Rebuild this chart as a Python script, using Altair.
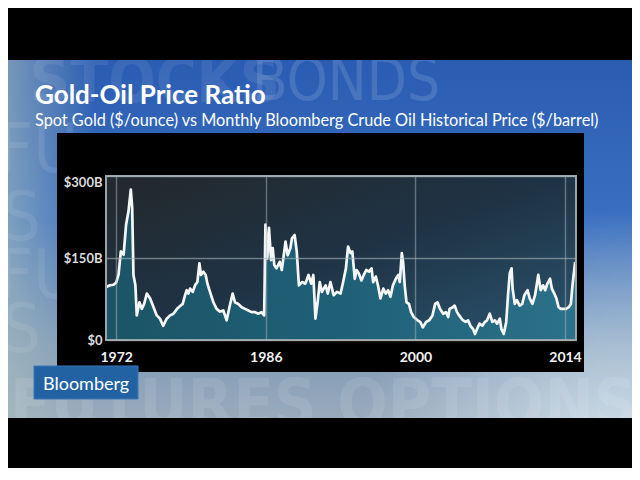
import altair as alt
import pandas as pd

# ---- data ----
years = [1971.08, 1971.4, 1971.75, 1972.0, 1972.22, 1972.44, 1972.7, 1972.93, 1973.15, 1973.37,
         1973.5, 1973.62, 1973.8, 1973.93, 1974.18, 1974.4, 1974.62, 1974.87, 1975.18, 1975.5,
         1975.8, 1976.1, 1976.4, 1976.73, 1977.05, 1977.36, 1977.7, 1978.04, 1978.23, 1978.45,
         1978.6, 1978.76, 1978.92, 1979.17, 1979.38, 1979.6, 1979.79, 1979.94, 1980.16, 1980.38,
         1980.54, 1980.78, 1981.1, 1981.4, 1981.72, 1982.03, 1982.34, 1982.6, 1982.9, 1983.12,
         1983.43, 1983.75, 1984.06, 1984.37, 1984.68, 1985.0, 1985.3, 1985.6, 1985.85, 1985.97,
         1986.14, 1986.3, 1986.5, 1986.65, 1986.8, 1987.0, 1987.3, 1987.5, 1987.85, 1988.05,
         1988.3, 1988.45, 1988.7, 1988.9, 1989.1, 1989.4, 1989.7, 1990.0, 1990.25, 1990.45,
         1990.65, 1990.85, 1991.05, 1991.25, 1991.6, 1991.8, 1992.05, 1992.35, 1992.66, 1993.0,
         1993.24, 1993.5, 1993.7, 1993.93, 1994.1, 1994.33, 1994.5, 1994.7, 1994.95, 1995.17,
         1995.4, 1995.66, 1995.9, 1996.05, 1996.3, 1996.5, 1996.73, 1997.0, 1997.23, 1997.45,
         1997.67, 1997.9, 1998.17, 1998.4, 1998.54, 1998.73, 1998.85, 1999.0, 1999.17, 1999.4,
         1999.6, 1999.85, 2000.2, 2000.45, 2000.7, 2001.0, 2001.3, 2001.6, 2001.85, 2002.07,
         2002.3, 2002.6, 2002.86, 2003.07, 2003.2, 2003.5, 2003.67, 2003.9, 2004.1, 2004.4,
         2004.7, 2004.93, 2005.15, 2005.4, 2005.58, 2005.77, 2006.0, 2006.27, 2006.5, 2006.7,
         2006.96, 2007.2, 2007.43, 2007.65, 2007.9, 2008.05, 2008.27, 2008.5, 2008.67, 2008.83,
         2009.0, 2009.1, 2009.3, 2009.5, 2009.76, 2010.0, 2010.2, 2010.5, 2010.7, 2010.95,
         2011.2, 2011.5, 2011.73, 2011.95, 2012.15, 2012.35, 2012.6, 2012.77, 2013.0, 2013.2,
         2013.4, 2013.6, 2013.85, 2014.1, 2014.35, 2014.55, 2014.7, 2014.95]
ratios = [97, 100, 101, 105, 119, 162, 156, 211, 235, 275,
          242, 119, 100, 45, 69, 57, 66, 85, 76, 60,
          45, 39, 26, 39, 45, 48, 57, 63, 66, 82,
          91, 85, 94, 88, 100, 106, 140, 119, 125, 119,
          103, 88, 69, 57, 52, 54, 36, 60, 85, 69,
          66, 60, 57, 54, 51, 51, 48, 51, 45, 211,
          149, 205, 146, 168, 137, 131, 143, 128, 180, 155,
          168, 186, 192, 162, 100, 106, 103, 119, 103, 119,
          39, 69, 106, 88, 100, 85, 106, 82, 88, 85,
          106, 131, 171, 159, 162, 112, 128, 122, 109, 119,
          128, 125, 131, 106, 116, 100, 76, 94, 85, 91,
          79, 100, 112, 119, 106, 159, 143, 100, 69, 66,
          51, 42, 36, 33, 23, 33, 36, 45, 66, 69,
          57, 48, 51, 42, 57, 60, 63, 51, 45, 37,
          33, 36, 26, 20, 11, 20, 30, 26, 33, 36,
          48, 33, 36, 30, 39, 20, 11, 33, 82, 122,
          131, 94, 66, 73, 63, 66, 82, 91, 76, 66,
          82, 119, 91, 100, 91, 103, 112, 94, 85, 76,
          60, 57, 57, 57, 60, 66, 100, 143]
x_ticks = [1972, 1986, 2000, 2014]
y_ticks = [0, 150, 300]

title_text = "Gold-Oil Price Ratio"
subtitle_text = "Spot Gold ($/ounce) vs Monthly Bloomberg Crude Oil Historical Price ($/barrel)"
logo_text = "Bloomberg"

df = pd.DataFrame({"year": years, "ratio": ratios})
one = pd.DataFrame({"k": [0]})

W, H = 470, 164  # plot area


def grad(stops, x1=0, y1=0, x2=0, y2=1):
    return alt.LinearGradient(
        gradient="linear",
        stops=[alt.GradientStop(color=c, offset=o) for o, c in stops],
        x1=x1, y1=y1, x2=x2, y2=y2,
    )


def box(x, x2, y, y2, **kw):
    return alt.Chart(one).mark_rect(**kw).encode(
        x=alt.value(x), x2=alt.value(x2), y=alt.value(y), y2=alt.value(y2)
    )


def label(text, x, y, **kw):
    return alt.Chart(one).mark_text(text=text, align="left", baseline="alphabetic", **kw).encode(
        x=alt.value(x), y=alt.value(y)
    )


# studio backdrop (coordinates relative to plot origin)
band = box(-98, 526, -116, 242,
           fill=grad([(0, "#2a5cb2"), (0.45, "#3a70c0"), (0.8, "#7f9ab8"), (1, "#9aaabb")]))
left_haze = box(-98, 526, -116, 242,
                fill=grad([(0, "rgba(170,190,190,0.6)"), (0.14, "rgba(170,190,190,0.0)"),
                           (1, "rgba(170,190,190,0.0)")], x1=0, y1=0, x2=1, y2=0))
right_glow = box(-98, 526, -116, 242,
                 fill=alt.RadialGradient(
                     gradient="radial",
                     stops=[alt.GradientStop(color="rgba(225,240,248,0.85)", offset=0),
                            alt.GradientStop(color="rgba(225,240,248,0.0)", offset=1)],
                     x1=1.0, y1=0.9, r1=0, x2=1.0, y2=0.9, r2=0.45))

ghost_font = "Liberation Sans Narrow, DejaVu Sans Condensed, sans-serif"
ghosts = [
    label("STOCKS", -76, -74, font=ghost_font, fontSize=62, fontWeight="bold", color="#ffffff", opacity=0.08),
    label("BONDS", 146, -76, font=ghost_font, fontSize=58, color="#dfe8f5", opacity=0.15),
    label("FU", -108, -4, font=ghost_font, fontSize=68, color="#ffffff", opacity=0.09),
    label("S", -104, 64, font=ghost_font, fontSize=68, color="#ffffff", opacity=0.08),
    label("FU", -108, 122, font=ghost_font, fontSize=68, color="#ffffff", opacity=0.08),
    label("S", -104, 176, font=ghost_font, fontSize=68, color="#ffffff", opacity=0.08),
    label("FUTURES OPTIONS", -96, 250, font=ghost_font, fontSize=66, fontWeight="bold", color="#ffffff", opacity=0.09),
]

top_bar = box(-98, 526, -168, -116, fill="#000000")
bottom_bar = box(-98, 526, 242, 300, fill="#000000")

title = label(title_text, -71, -72, font="Lato", fontSize=26, fontWeight="bold", color="#ffffff")
subtitle = label(subtitle_text, -71, -50, font="Lato", fontSize=16.3, color="#ffffff")

panel = box(-49, 478, -43, 196, fill="#000000")
plot_bg = box(0, W, 0, H,
              fill=grad([(0, "#23282b"), (0.5, "#1f3345"), (1, "#2a5570")], x1=0, y1=0, x2=1, y2=1))

x_enc = alt.X("year:Q", title=None,
              scale=alt.Scale(domain=[1971.05, 2015.03], nice=False, zero=False),
              axis=alt.Axis(values=x_ticks, format="d", grid=True, gridColor="#a6b2b7",
                            gridOpacity=0.5, gridWidth=1.5, domain=False, ticks=False,
                            labelFont="Lato", labelFontWeight="bold", labelFontSize=14,
                            labelColor="#f2f2f2", labelPadding=10, zindex=1))
y_enc = alt.Y("ratio:Q", title=None,
              scale=alt.Scale(domain=[0, 300], nice=False),
              axis=alt.Axis(values=y_ticks, grid=True, gridColor="#a6b2b7", gridOpacity=0.6,
                            gridWidth=1.5, domain=False, ticks=False,
                            labelExpr="datum.value == 0 ? '$0' : '$' + datum.value + 'B'",
                            labelBaseline={"condition": {"test": "datum.value >= 300", "value": "top"},
                                           "value": "middle"},
                            labelFont="Lato", labelFontWeight="bold", labelFontSize=13,
                            labelColor="#dcdcdc", labelPadding=4, zindex=1))

area = alt.Chart(df).mark_area(
    fill=grad([(0, "#1b5466"), (0.5, "#1f6077"), (1, "#2b7189")], x1=0, y1=0, x2=1, y2=0)
).encode(x=x_enc, y=y_enc)
line = alt.Chart(df).mark_line(color="#f5f7f7", strokeWidth=2.7, strokeJoin="round").encode(
    x="year:Q", y="ratio:Q")

frame = box(0, W, 0, H, fillOpacity=0, stroke="#97a5aa", strokeWidth=2)

logo_box = box(-72, 32, 190, 223, fill="#2262a3", stroke="#3a78b8", strokeWidth=1)
logo = label(logo_text, -63, 214, font="Lato", fontSize=18, color="#ffffff")

chart = alt.layer(
    band, left_haze, right_glow, *ghosts, top_bar, bottom_bar,
    title, subtitle, panel, plot_bg, area, line, frame, logo_box, logo,
).properties(
    width=W, height=H,
    autosize=alt.AutoSizeParams(type="none"),
    padding={"left": 98, "top": 168, "right": 56, "bottom": 128},
).configure(background="#000000").configure_view(strokeWidth=0)

chart.save("out.html", embed_options={"renderer": "svg", "actions": False})
